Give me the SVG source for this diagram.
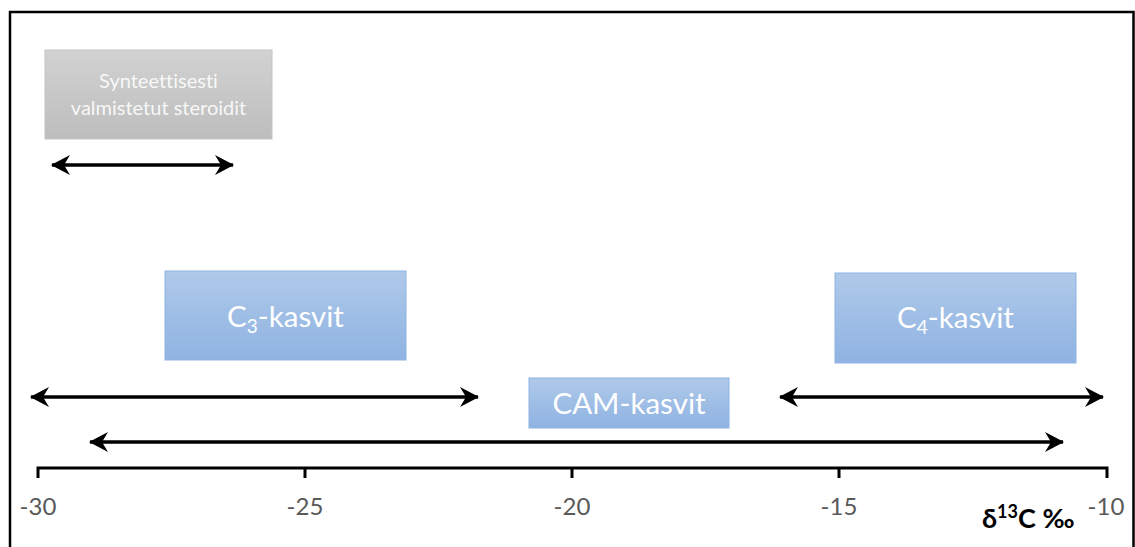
<svg xmlns="http://www.w3.org/2000/svg" width="1135" height="547" viewBox="0 0 1135 547">
<style>
text{font-variant-ligatures:none}
.lbl{font-family:Lato,"Open Sans",sans-serif;fill:#ffffff;text-anchor:middle}
.tick{font-family:Lato,"Open Sans",sans-serif;fill:#595959;font-size:24px;text-anchor:middle}
.ax{stroke:#000;stroke-width:3;fill:none}
.arr{stroke:#000;stroke-width:3.5;fill:none;marker-start:url(#ah);marker-end:url(#ah)}
.blue{fill:url(#gb);stroke:#8db4e2;stroke-width:1}
</style>
<defs>
<linearGradient id="gb" x1="0" y1="0" x2="0" y2="1">
<stop offset="0" stop-color="#afc9e9"/>
<stop offset="1" stop-color="#8fb3e2"/>
</linearGradient>
<linearGradient id="gg" x1="0" y1="0" x2="0" y2="1">
<stop offset="0" stop-color="#d2d2d2"/>
<stop offset="1" stop-color="#bdbdbd"/>
</linearGradient>
<marker id="ah" viewBox="-20 -11 22 22" refX="-1" refY="0" markerWidth="22" markerHeight="22" markerUnits="userSpaceOnUse" orient="auto-start-reverse">
<path d="M0,0 L-19,-10 L-13,0 L-19,10 Z" fill="#000"/>
</marker>
</defs>
<rect x="10" y="12" width="1123.5" height="545" fill="#fff" stroke="#000" stroke-width="2.5"/>

<g id="axis">
<path class="ax" d="M38,478 V468 H1107 V478"/>
<path class="ax" d="M305,468 V478 M572,468 V478 M839,468 V478"/>
<text class="tick" x="38" y="515">-30</text>
<text class="tick" x="305" y="515">-25</text>
<text class="tick" x="572" y="515">-20</text>
<text class="tick" x="839" y="515">-15</text>
<text class="tick" x="1106" y="515">-10</text>
<text x="982" y="528" font-family="Lato,'Open Sans',sans-serif" font-weight="bold" font-size="27" fill="#000">δ<tspan font-size="18" dy="-10">13</tspan><tspan dy="10">C ‰</tspan></text>
</g>

<g id="synteettisesti">
<rect x="45" y="50" width="227" height="89" fill="url(#gg)" stroke="#c4c4c4" stroke-width="1"/>
<text class="lbl" x="158.5" y="88" font-size="20" fill-opacity="0.9">Synteettisesti</text>
<text class="lbl" x="158.5" y="115" font-size="20" fill-opacity="0.9">valmistetut steroidit</text>
</g>

<g id="c3">
<rect class="blue" x="165" y="271" width="241" height="89"/>
<text class="lbl" x="285.5" y="327" font-size="29.5">C<tspan font-size="19" dy="6">3</tspan><tspan dy="-6">-kasvit</tspan></text>
</g>

<g id="c4">
<rect class="blue" x="835" y="273" width="241" height="90"/>
<text class="lbl" x="955.5" y="328" font-size="29.5">C<tspan font-size="19" dy="6">4</tspan><tspan dy="-6">-kasvit</tspan></text>
</g>

<g id="cam">
<rect class="blue" x="529" y="378" width="200" height="50"/>
<text class="lbl" x="629" y="414" font-size="29.5">CAM-kasvit</text>
</g>

<g id="connectors">
<line class="arr" x1="52" y1="165" x2="233" y2="165"/>
<line class="arr" x1="31" y1="397" x2="478" y2="397"/>
<line class="arr" x1="780" y1="397" x2="1103" y2="397"/>
<line class="arr" x1="90" y1="442" x2="1063" y2="442"/>
</g>
</svg>
